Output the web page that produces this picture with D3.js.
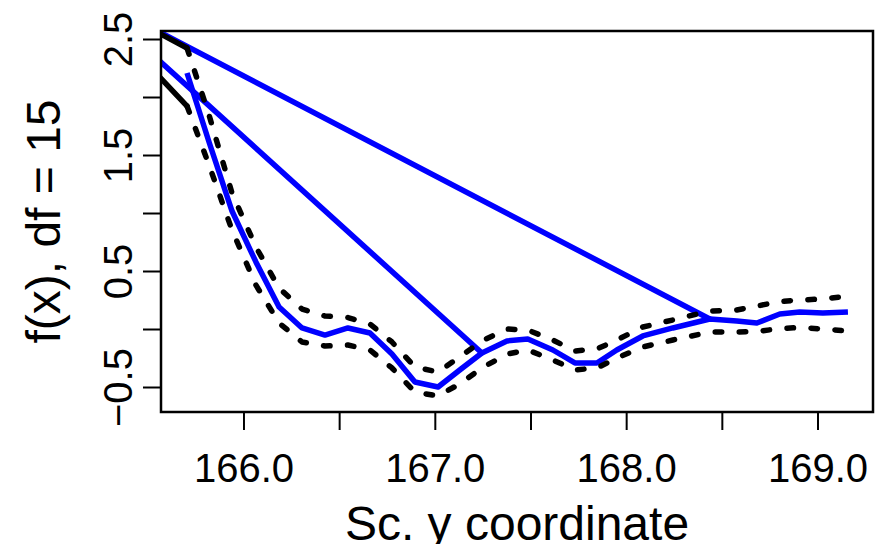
<!DOCTYPE html>
<html>
<head>
<meta charset="utf-8">
<script src="https://cdn.jsdelivr.net/npm/d3@7"></script>
<style>
  body { margin: 0; background: #fff; }
  svg { display: block; font-family: "Liberation Sans", Arial, sans-serif; }
</style>
</head>
<body>
<svg width="889" height="544"></svg>
<script>
// smooth term f(x) against the scaled y coordinate, with +/- 2 se band
const xVals = [165.705, 165.820, 165.940, 166.065, 166.186, 166.306, 166.426, 166.546, 166.661, 166.776,
  166.896, 167.017, 167.137, 167.246, 167.377, 167.486, 167.617, 167.732, 167.847, 167.951,
  168.087, 168.244, 168.437, 168.578, 168.683, 168.803, 168.907, 169.028, 169.159];
const fitVals = [2.207, 1.612, 1.017, 0.578, 0.190, 0.009, -0.052, 0.009, -0.034, -0.216,
  -0.457, -0.500, -0.345, -0.207, -0.103, -0.086, -0.181, -0.293, -0.293, -0.181,
  -0.060, 0.009, 0.086, 0.069, 0.052, 0.129, 0.147, 0.138, 0.147];
const upperVals = [2.422, 1.845, 1.172, 0.707, 0.353, 0.172, 0.112, 0.099, 0.043, -0.112,
  -0.328, -0.371, -0.233, -0.103, 0.000, -0.009, -0.095, -0.190, -0.172, -0.095,
  0.017, 0.078, 0.155, 0.164, 0.198, 0.237, 0.250, 0.259, 0.284];
const lowerVals = [1.922, 1.414, 0.853, 0.379, 0.052, -0.112, -0.147, -0.138, -0.181, -0.336,
  -0.543, -0.578, -0.466, -0.336, -0.216, -0.181, -0.267, -0.353, -0.336, -0.250,
  -0.155, -0.095, -0.026, -0.026, -0.022, 0.004, 0.013, 0.000, -0.017];

// unsorted points lying left of the plot region (lines wrap back to them)
const offX = 165.45;
const fitWrapY = [2.656, 2.478];
const fitWrapTo = [22, 13];
const upperWrapY = 2.645;
const lowerWrapY = 2.367;

const xTicks = [166.0, 166.5, 167.0, 167.5, 168.0, 168.5, 169.0];
const xLabelled = [166.0, 167.0, 168.0, 169.0];
const yTicks = [-0.5, 0.0, 0.5, 1.0, 1.5, 2.0, 2.5];
const yLabelled = [-0.5, 0.5, 1.5, 2.5];

const svg = d3.select("svg");
const pL = 161, pR = 873, pT = 31, pB = 412;

const x = d3.scaleLinear().domain([165.569, 169.290]).range([pL, pR]);
const y = d3.scaleLinear().domain([-0.7155, 2.569]).range([pB, pT]);

svg.append("defs").append("clipPath").attr("id", "plotclip")
  .append("rect")
  .attr("x", pL).attr("y", pT)
  .attr("width", pR - pL).attr("height", pB - pT);

const plot = svg.append("g").attr("clip-path", "url(#plotclip)");

const line = d3.line().x(d => x(d[0])).y(d => y(d[1]));

const fit = xVals.map((v, i) => [v, fitVals[i]]);
const upper = xVals.map((v, i) => [v, upperVals[i]]);
const lower = xVals.map((v, i) => [v, lowerVals[i]]);

// fitted curve and its wrap-around segments
plot.append("path")
  .attr("d", line(fit))
  .attr("fill", "none")
  .attr("stroke", "#0000ff")
  .attr("stroke-width", 5.5)
  .attr("stroke-linejoin", "round");

fitWrapY.forEach((wy, i) => {
  plot.append("path")
    .attr("d", line([[offX, wy], fit[fitWrapTo[i]]]))
    .attr("fill", "none")
    .attr("stroke", "#0000ff")
    .attr("stroke-width", 5.5)
    .attr("stroke-linecap", "round");
});

// confidence band, dashed
[upper, lower].forEach(band => {
  plot.append("path")
    .attr("d", line(band))
    .attr("fill", "none")
    .attr("stroke", "#000")
    .attr("stroke-width", 5.5)
    .attr("stroke-linecap", "round")
    .attr("stroke-linejoin", "round")
    .attr("stroke-dasharray", "6.5,17.5");
});

[[upperWrapY, upper[0]], [lowerWrapY, lower[0]]].forEach(([wy, p]) => {
  plot.append("path")
    .attr("d", line([[offX, wy], p]))
    .attr("fill", "none")
    .attr("stroke", "#000")
    .attr("stroke-width", 5.5)
    .attr("stroke-linecap", "round");
});

// axes, R style
const xAxis = svg.append("g")
  .attr("transform", `translate(0,${pB})`)
  .call(d3.axisBottom(x).tickValues(xTicks).tickSize(18).tickSizeOuter(0)
    .tickFormat(d => xLabelled.includes(d) ? d3.format(".1f")(d) : ""));
xAxis.select(".domain").remove();
xAxis.selectAll(".tick line").attr("stroke", "#000").attr("stroke-width", 2);
xAxis.selectAll(".tick text")
  .attr("y", 70).attr("dy", 0)
  .attr("fill", "#000")
  .style("font-size", "40px")
  .style("font-family", "Liberation Sans, Arial, sans-serif");

const yAxis = svg.append("g")
  .attr("transform", `translate(${pL},0)`)
  .call(d3.axisLeft(y).tickValues(yTicks).tickSize(18).tickSizeOuter(0)
    .tickFormat(d => yLabelled.includes(d) ? d3.format(".1f")(d) : ""));
yAxis.select(".domain").remove();
yAxis.selectAll(".tick line").attr("stroke", "#000").attr("stroke-width", 2);
yAxis.selectAll(".tick text")
  .attr("x", 0).attr("y", -29).attr("dy", 0)
  .attr("transform", "rotate(-90)")
  .attr("text-anchor", "middle")
  .attr("fill", "#000")
  .style("font-size", "40px")
  .style("font-family", "Liberation Sans, Arial, sans-serif");

svg.append("rect")
  .attr("x", pL).attr("y", pT)
  .attr("width", pR - pL).attr("height", pB - pT)
  .attr("fill", "none")
  .attr("stroke", "#000")
  .attr("stroke-width", 2.5);

svg.append("text")
  .attr("x", (pL + pR) / 2)
  .attr("y", 540)
  .attr("text-anchor", "middle")
  .style("font-size", "48px")
  .text("Sc. y coordinate");

svg.append("text")
  .attr("transform", `translate(60,${(pT + pB) / 2}) rotate(-90)`)
  .attr("text-anchor", "middle")
  .style("font-size", "48px")
  .text("f(x), df = 15");
</script>
</body>
</html>
